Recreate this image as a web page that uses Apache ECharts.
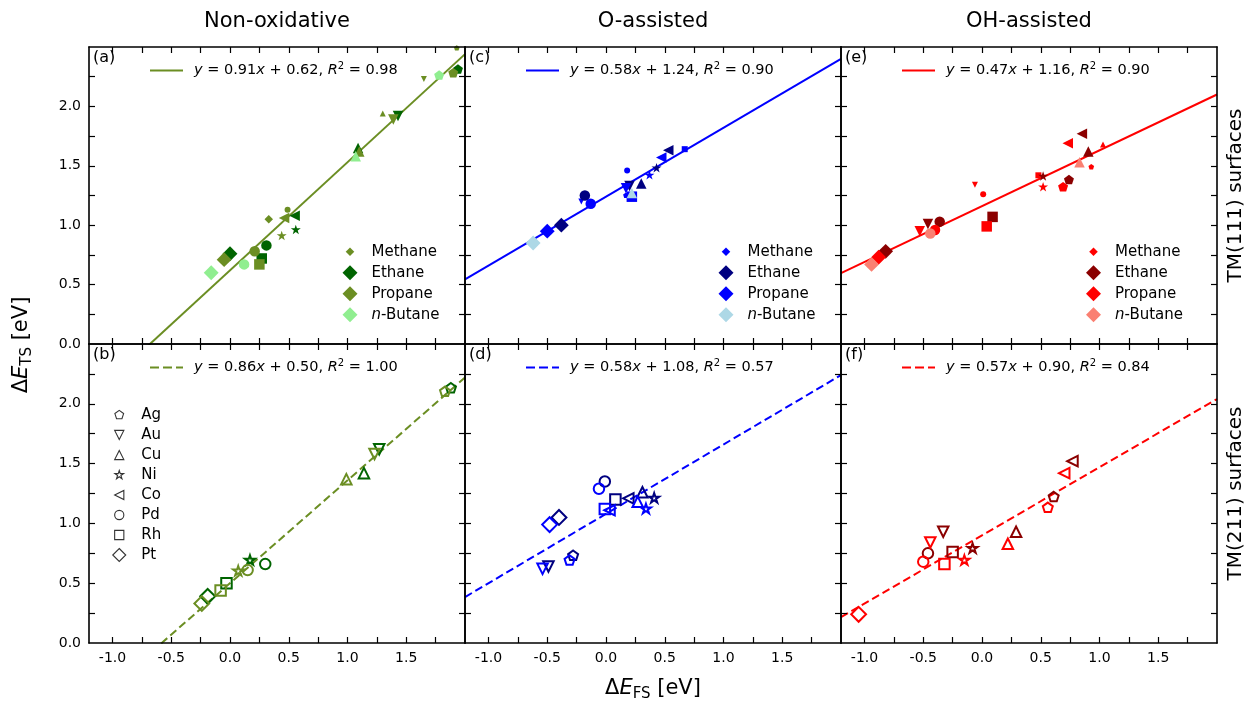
<!DOCTYPE html>
<html>
<head>
<meta charset="utf-8">
<script src="https://cdn.jsdelivr.net/npm/echarts@6/dist/echarts.min.js"></script>
<style>
  html, body { margin: 0; padding: 0; background: #fff; }
  #chart { width: 1247px; height: 704px; }
</style>
</head>
<body>
<div id="chart"></div>
<script>
// ---------------- labels & ticks ----------------
const metals = ['Ag', 'Au', 'Cu', 'Ni', 'Co', 'Pd', 'Rh', 'Pt'];
const speciesNames = ['Methane', 'Ethane', 'Propane', 'n-Butane'];
const columnTitles = ['Non-oxidative', 'O-assisted', 'OH-assisted'];
const rowTitles = ['TM(111) surfaces', 'TM(211) surfaces'];
const panelLetters = ['(a)', '(c)', '(e)', '(b)', '(d)', '(f)'];

const xTicks = [-1.0, -0.75, -0.5, -0.25, 0, 0.25, 0.5, 0.75, 1.0, 1.25, 1.5, 1.75];
const xTickLabels = [-1.0, -0.5, 0, 0.5, 1.0, 1.5];
const yTicks = [0.25, 0.5, 0.75, 1.0, 1.25, 1.5, 1.75, 2.0, 2.25];
const yTickLabels = [0, 0.5, 1.0, 1.5, 2.0];

// ---------------- linear fits (panel order a, c, e, b, d, f) ----------------
const fitSlope = [0.91, 0.58, 0.47, 0.86, 0.58, 0.57];
const fitIntercept = [0.62, 1.24, 1.16, 0.50, 1.08, 0.90];
const fitR2 = [0.98, 0.90, 0.90, 1.00, 0.57, 0.84];

// ---------------- colours: methane, ethane, propane, n-butane ----------------
const greens = ['#6b8e23', '#006400', '#6b8e23', '#90ee90'];
const blues = ['#0000ff', '#000080', '#0000ff', '#add8e6'];
const reds = ['#ff0000', '#8b0000', '#ff0000', '#fa8072'];
const lineColors = ['#6b8e23', '#0000ff', '#ff0000'];

// ---------------- data: [dE_FS, dE_TS] per metal (order of `metals`) ----------------
// TM(111), non-oxidative
const nonox111Methane = [[1.93, 2.49], [1.65, 2.23], [1.30, 1.94], null, null, [0.49, 1.13], null, [0.33, 1.05]];
const nonox111Ethane = [[1.94, 2.31], [1.43, 1.92], [1.09, 1.65], [0.56, 0.96], [0.55, 1.08], [0.31, 0.83], [0.27, 0.72], [0.00, 0.76]];
const nonox111Propane = [[1.90, 2.28], [1.39, 1.89], [1.10, 1.62], [0.44, 0.91], [0.46, 1.06], [0.21, 0.78], [0.25, 0.67], [-0.05, 0.71]];
const nonox111Butane = [[1.78, 2.26], null, [1.07, 1.58], null, null, [0.12, 0.67], null, [-0.16, 0.60]];
// TM(111), O-assisted
const oAss111Methane = [[0.17, 1.25], [-0.21, 1.20], null, null, null, [0.18, 1.46], [0.67, 1.64], null];
const oAss111Ethane = [null, [0.20, 1.33], [0.30, 1.35], [0.43, 1.48], [0.53, 1.63], [-0.18, 1.25], null, [-0.38, 1.00]];
const oAss111Propane = [null, [0.17, 1.31], null, [0.37, 1.42], [0.47, 1.57], [-0.13, 1.18], [0.22, 1.24], [-0.50, 0.95]];
const oAss111Butane = [null, null, [0.22, 1.27], null, null, null, null, [-0.62, 0.85]];
// TM(111), OH-assisted
const ohAss111Methane = [[0.93, 1.49], [-0.06, 1.34], [1.03, 1.68], null, null, [0.01, 1.26], [0.48, 1.42], null];
const ohAss111Ethane = [[0.74, 1.38], [-0.46, 1.01], [0.905, 1.62], [0.52, 1.41], [0.85, 1.77], [-0.36, 1.03], [0.09, 1.07], [-0.82, 0.78]];
const ohAss111Propane = [[0.69, 1.32], [-0.53, 0.95], null, [0.52, 1.32], [0.73, 1.69], [-0.40, 0.96], [0.04, 0.99], [-0.88, 0.73]];
const ohAss111Butane = [null, null, [0.83, 1.53], null, null, [-0.44, 0.93], null, [-0.94, 0.67]];
// TM(211), non-oxidative
const nonox211Ethane = [[1.88, 2.13], [1.27, 1.62], [1.14, 1.42], [0.17, 0.69], null, [0.30, 0.66], [-0.03, 0.50], [-0.19, 0.39]];
const nonox211Propane = [[1.83, 2.10], [1.23, 1.58], [0.99, 1.37], [0.07, 0.60], null, [0.15, 0.61], [-0.08, 0.44], [-0.24, 0.33]];
// TM(211), O-assisted
const oAss211Ethane = [[-0.28, 0.73], [-0.49, 0.64], [0.31, 1.26], [0.41, 1.21], [0.19, 1.21], [-0.01, 1.35], [0.08, 1.20], [-0.40, 1.05]];
const oAss211Propane = [[-0.31, 0.69], [-0.54, 0.62], [0.27, 1.18], [0.34, 1.12], [0.03, 1.11], [-0.06, 1.29], [-0.01, 1.12], [-0.48, 0.99]];
// TM(211), OH-assisted
const ohAss211Ethane = [[0.61, 1.22], [-0.33, 0.93], [0.29, 0.93], [-0.08, 0.79], [0.77, 1.52], [-0.46, 0.75], [-0.25, 0.76], null];
const ohAss211Propane = [[0.56, 1.13], [-0.44, 0.84], [0.22, 0.83], [-0.15, 0.69], [0.70, 1.42], [-0.50, 0.68], [-0.32, 0.66], [-1.05, 0.24]];

// ---------------- layout ----------------
const FONT = 'DejaVu Sans';
const X_MIN = -1.2, X_MAX = 2.0, Y_MIN = 0, Y_MAX = 2.5;
const colLeft = [89, 465, 841];
const colWidth = 376;
const rowTop = [47, 344];
const rowHeight = [297, 299];

const panels = [
  { row: 0, col: 0, palette: greens, sets: [nonox111Methane, nonox111Ethane, nonox111Propane, nonox111Butane], species: [0, 1, 2, 3] },
  { row: 0, col: 1, palette: blues, sets: [oAss111Methane, oAss111Ethane, oAss111Propane, oAss111Butane], species: [0, 1, 2, 3] },
  { row: 0, col: 2, palette: reds, sets: [ohAss111Methane, ohAss111Ethane, ohAss111Propane, ohAss111Butane], species: [0, 1, 2, 3] },
  { row: 1, col: 0, palette: greens, sets: [nonox211Ethane, nonox211Propane], species: [1, 2] },
  { row: 1, col: 1, palette: blues, sets: [oAss211Ethane, oAss211Propane], species: [1, 2] },
  { row: 1, col: 2, palette: reds, sets: [ohAss211Ethane, ohAss211Propane], species: [1, 2] }
];

// ---------------- marker shapes (unit = marker size, y pointing down) ----------------
function regularPoints(n, rOuter, rInner) {
  const m = rInner ? 2 * n : n;
  const pts = [];
  for (let i = 0; i < m; i++) {
    const a = -Math.PI / 2 + i * 2 * Math.PI / m;
    const r = (rInner && i % 2) ? rInner : rOuter;
    pts.push([r * Math.cos(a), r * Math.sin(a)]);
  }
  return pts;
}
const metalShapes = [
  regularPoints(5, 0.5),                                  // Ag pentagon
  [[-0.5, -0.5], [0.5, -0.5], [0, 0.5]],                  // Au triangle down
  [[0, -0.5], [0.5, 0.5], [-0.5, 0.5]],                   // Cu triangle up
  regularPoints(5, 0.5, 0.191),                           // Ni star
  [[-0.5, 0], [0.5, -0.5], [0.5, 0.5]],                   // Co triangle left
  'circle',                                               // Pd
  [[-0.5, -0.5], [0.5, -0.5], [0.5, 0.5], [-0.5, 0.5]],   // Rh square
  [[0, -0.7071], [0.7071, 0], [0, 0.7071], [-0.7071, 0]]  // Pt diamond
];
const UNIT = 70.71; // a square box of side sqrt(2)*size maps to 0..100
function fmt(v) { return v.toFixed(2); }
function markerSymbol(k, scale) {
  scale = scale || 1;
  const shape = metalShapes[k];
  const head = 'path://M0 0M100 100M';
  if (shape === 'circle') {
    const r = 0.5 * UNIT * scale;
    return head + fmt(50 - r) + ' 50A' + fmt(r) + ' ' + fmt(r) + ' 0 1 0 ' + fmt(50 + r) + ' 50A' +
      fmt(r) + ' ' + fmt(r) + ' 0 1 0 ' + fmt(50 - r) + ' 50Z';
  }
  return head + shape.map(p => fmt(50 + p[0] * UNIT * scale) + ' ' + fmt(50 + p[1] * UNIT * scale)).join('L') + 'Z';
}
const BIG = 10.5, SMALL = 6;

// key glyphs for the fit lines: a solid bar and a dashed bar
const solidKey = 'path://M0 0L33 0L33 2L0 2Z';
const dashedKey = 'path://M0 0L9 0L9 2L0 2ZM13 0L22 0L22 2L13 2ZM26 0L33 0L33 2L26 2Z';

// ---------------- axes & grids ----------------
const grids = [], xAxes = [], yAxes = [], mirrorX = [], mirrorY = [];
const spine = { color: '#000', width: 1.6 };
const tickLine = { color: '#000', width: 1.2 };
panels.forEach((pn, p) => {
  grids.push({ left: colLeft[pn.col], top: rowTop[pn.row], width: colWidth, height: rowHeight[pn.row] });
  const xBase = {
    type: 'value', gridIndex: p, min: X_MIN, max: X_MAX,
    axisLine: { show: true, onZero: false, lineStyle: spine },
    axisTick: { show: true, inside: true, length: 6, lineStyle: tickLine, customValues: xTicks },
    splitLine: { show: false }, z: 10
  };
  const yBase = {
    type: 'value', gridIndex: p, min: Y_MIN, max: Y_MAX,
    axisLine: { show: true, onZero: false, lineStyle: spine },
    axisTick: { show: true, inside: true, length: 6, lineStyle: tickLine, customValues: yTicks },
    splitLine: { show: false }, z: 10
  };
  xAxes.push(Object.assign({}, xBase, {
    position: 'bottom',
    axisLabel: { show: pn.row === 1, customValues: xTickLabels, formatter: v => v.toFixed(1),
      color: '#000', fontSize: 14, fontFamily: FONT, margin: 8 }
  }));
  mirrorX.push(Object.assign({}, xBase, { position: 'top', axisLabel: { show: false } }));
  yAxes.push(Object.assign({}, yBase, {
    position: 'left',
    axisLabel: { show: pn.col === 0, customValues: yTickLabels, formatter: v => v.toFixed(1),
      color: '#000', fontSize: 14, fontFamily: FONT, margin: 8 }
  }));
  mirrorY.push(Object.assign({}, yBase, { position: 'right', axisLabel: { show: false } }));
});

// ---------------- series ----------------
const eqNames = fitSlope.map((m, i) =>
  'y = ' + m.toFixed(2) + 'x + ' + fitIntercept[i].toFixed(2) + ', R2 = ' + fitR2[i].toFixed(2));
const eqRich = fitSlope.map((m, i) =>
  '{sp| }{it|y}{t| = ' + m.toFixed(2) + '}{it|x}{t| + ' + fitIntercept[i].toFixed(2) + ', }{it|R}{sup|2}{t| = ' + fitR2[i].toFixed(2) + '}');

const series = [];
panels.forEach((pn, p) => {
  const m = fitSlope[p], b = fitIntercept[p];
  series.push({
    type: 'line', name: eqNames[p], xAxisIndex: p, yAxisIndex: p,
    data: [[X_MIN, m * X_MIN + b], [X_MAX, m * X_MAX + b]],
    symbol: 'none', clip: true, silent: true, z: 2,
    itemStyle: { color: lineColors[pn.col] },
    lineStyle: { color: lineColors[pn.col], width: 2, type: pn.row === 1 ? [8, 4] : 'solid' }
  });
});
panels.forEach((pn, p) => {
  pn.sets.forEach((pts, j) => {
    const s = pn.species[j];
    const color = pn.palette[s];
    const size = (s === 0 ? SMALL : BIG) * Math.SQRT2;
    series.push({
      type: 'scatter', name: speciesNames[s], xAxisIndex: p, yAxisIndex: p,
      symbolSize: size, z: 3,
      emphasis: { disabled: true },
      data: pts.map((v, k) => v ? { value: v, symbol: markerSymbol(k) } : null).filter(Boolean),
      itemStyle: pn.row === 0
        ? { color: color, opacity: 1 }
        : { color: 'rgba(0,0,0,0)', borderColor: color, borderWidth: 2, opacity: 1 }
    });
  });
});
// entries for the metal key (no points of their own)
metals.forEach((name, k) => {
  series.push({
    type: 'scatter', name: name, xAxisIndex: 3, yAxisIndex: 3, data: [],
    symbol: markerSymbol(k), symbolSize: 9 * Math.SQRT2,
    itemStyle: { color: 'rgba(0,0,0,0)', borderColor: '#000', borderWidth: 1.1 }
  });
});

// ---------------- legends ----------------
function tokenStyles(size, lh) {
  return {
    t: { fontFamily: FONT, fontSize: size, color: '#000', lineHeight: lh },
    it: { fontFamily: FONT, fontSize: size, color: '#000', fontStyle: 'italic', lineHeight: lh },
    sup: { fontFamily: FONT, fontSize: Math.round(size * 0.7), color: '#000', lineHeight: 10, verticalAlign: 'top' },
    sp: { fontFamily: FONT, fontSize: size, width: 6, lineHeight: lh }
  };
}
const legends = [];
panels.forEach((pn, p) => {
  legends.push({
    data: [{ name: eqNames[p], icon: pn.row === 1 ? dashedKey : solidKey,
      itemStyle: { color: lineColors[pn.col], borderWidth: 0 } }],
    selectedMode: false, padding: 0,
    left: colLeft[pn.col] + 61, top: rowTop[pn.row] + 23.5 - 9,
    itemWidth: 33, itemHeight: 14,
    formatter: name => eqRich[eqNames.indexOf(name)],
    textStyle: { fontFamily: FONT, fontSize: 14.5, color: '#000', lineHeight: 18, rich: tokenStyles(14.5, 18) }
  });
});
const speciesIconX = [261, 261, 252.5];
[0, 1, 2].forEach(c => {
  const pal = [greens, blues, reds][c];
  const rich = tokenStyles(15, 18);
  rich.sp.width = 9;
  legends.push({
    orient: 'vertical', selectedMode: false, padding: 0,
    left: colLeft[c] + speciesIconX[c] - 7.5, top: 242.7,
    itemWidth: 15, itemHeight: 15, itemGap: 3,
    data: speciesNames.map((n, s) => ({
      name: n,
      icon: markerSymbol(7, s === 0 ? SMALL / BIG : 1),
      itemStyle: { color: pal[s], borderWidth: 0 }
    })),
    formatter: name => name === 'n-Butane' ? '{sp| }{it|n}{t|-Butane}' : '{sp| }{t|' + name + '}',
    textStyle: { fontFamily: FONT, fontSize: 15, color: '#000', lineHeight: 18, rich: rich }
  });
});
{
  const rich = tokenStyles(15, 18);
  rich.sp.width = 10.5;
  legends.push({
    orient: 'vertical', selectedMode: false, padding: 0,
    left: 112.2, top: 406, itemWidth: 13, itemHeight: 13, itemGap: 2,
    data: metals.map((n, k) => ({
      name: n, icon: markerSymbol(k),
      itemStyle: { color: 'rgba(0,0,0,0)', borderColor: '#000', borderWidth: 1.1 }
    })),
    formatter: name => '{sp| }{t|' + name + '}',
    textStyle: { fontFamily: FONT, fontSize: 15, color: '#000', lineHeight: 18, rich: rich }
  });
}

// ---------------- free text ----------------
const graphics = [];
columnTitles.forEach((t, c) => {
  graphics.push({ type: 'text', x: colLeft[c] + colWidth / 2, y: 22,
    style: { text: t, fontFamily: FONT, fontSize: 21, fill: '#000', align: 'center', verticalAlign: 'middle' } });
});
rowTitles.forEach((t, r) => {
  graphics.push({ type: 'text', x: 1236, y: rowTop[r] + rowHeight[r] / 2, rotation: Math.PI / 2,
    style: { text: t, fontFamily: FONT, fontSize: 20, fill: '#000', align: 'center', verticalAlign: 'middle' } });
});
panels.forEach((pn, p) => {
  graphics.push({ type: 'text', x: colLeft[pn.col] + 4, y: rowTop[pn.row] + 11,
    style: { text: panelLetters[p], fontFamily: FONT, fontSize: 16, fill: '#000', align: 'left', verticalAlign: 'middle' } });
});
function axisTitleRich() {
  return {
    n: { fontFamily: FONT, fontSize: 21, fill: '#000', lineHeight: 26 },
    e: { fontFamily: FONT, fontSize: 21, fill: '#000', fontStyle: 'italic', lineHeight: 26 },
    s: { fontFamily: FONT, fontSize: 15, fill: '#000', lineHeight: 14, verticalAlign: 'bottom' }
  };
}
graphics.push({ type: 'text', x: 22, y: 345, rotation: Math.PI / 2,
  style: { text: '{n|Δ}{e|E}{s|TS}{n| [eV]}', rich: axisTitleRich(), fontFamily: FONT, fontSize: 21,
    fill: '#000', align: 'center', verticalAlign: 'middle' } });
graphics.push({ type: 'text', x: 653, y: 689,
  style: { text: '{n|Δ}{e|E}{s|FS}{n| [eV]}', rich: axisTitleRich(), fontFamily: FONT, fontSize: 21,
    fill: '#000', align: 'center', verticalAlign: 'middle' } });

const chart = echarts.init(document.getElementById('chart'), null, { renderer: 'canvas' });
chart.setOption({
  animation: false,
  backgroundColor: '#fff',
  grid: grids,
  xAxis: xAxes.concat(mirrorX),
  yAxis: yAxes.concat(mirrorY),
  legend: legends,
  series: series,
  graphic: graphics
});
</script>
</body>
</html>
